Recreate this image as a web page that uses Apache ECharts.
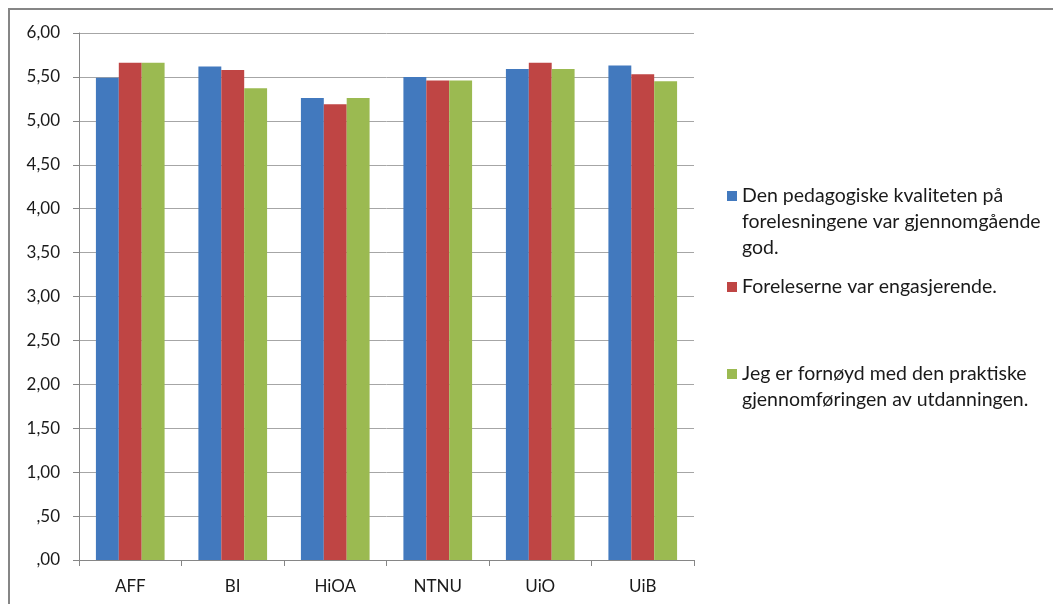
<!DOCTYPE html>
<html>
<head>
    <meta charset="utf-8">
    <script type="text/javascript" src="https://cdn.jsdelivr.net/npm/echarts@6/dist/echarts.min.js"></script>
    <title>charts</title>
    <style>
        html, body { margin: 0; padding: 0; background: #fff; }
    </style>
</head>
<body>
<div id="main" style="width: 1053px;height:604px;"></div>
<script type="text/javascript">

    // data
    var categories = ['AFF', 'BI', 'HiOA', 'NTNU', 'UiO', 'UiB'];
    var seriesNames = [
        'Den pedagogiske kvaliteten på forelesningene var gjennomgående god.',
        'Foreleserne var engasjerende.',
        'Jeg er fornøyd med den praktiske gjennomføringen av utdanningen.'
    ];
    // how the legend text wraps in the original
    var legendLines = [
        ['Den pedagogiske kvaliteten på', 'forelesningene var gjennomgående', 'god.'],
        ['Foreleserne var engasjerende.'],
        ['Jeg er fornøyd med den praktiske', 'gjennomføringen av utdanningen.']
    ];
    var pedagogisk = [5.49, 5.62, 5.26, 5.50, 5.59, 5.63];
    var engasjerende = [5.66, 5.58, 5.19, 5.46, 5.66, 5.53];
    var fornoyd = [5.66, 5.37, 5.26, 5.46, 5.59, 5.45];
    var colors = ['#4279BE', '#BF4544', '#9BBA51'];

    var font = 'Lato, "Open Sans", sans-serif';
    var lineH = 26;
    var legendTops = [183, 274, 361];

    var myChart = echarts.init(document.getElementById('main'));

    // legend marker sits next to the first line, like in Excel:
    // a 10x10 square at the top of a taller (invisible) box
    function markerIcon(n) {
        var h = (n - 1) * lineH + 10;
        return {
            icon: 'path://M0,0L10,0L10,10L0,10Z M0,' + h + 'L0.001,' + h + 'Z',
            h: h
        };
    }

    var legends = seriesNames.map(function (name, i) {
        var n = legendLines[i].length;
        var mk = markerIcon(n);
        return {
            left: 727,
            top: legendTops[i],
            orient: 'vertical',
            padding: 0,
            icon: n > 1 ? mk.icon : 'rect',
            itemWidth: 10,
            itemHeight: n > 1 ? mk.h : 10,
            data: [name],
            formatter: function () {
                return legendLines[i].join('\n');
            },
            textStyle: {
                fontFamily: font,
                fontSize: 19.5,
                color: '#1a1a1a',
                lineHeight: lineH
            }
        };
    });

    var option = {
        animation: false,
        color: colors,
        graphic: [{
            type: 'rect',
            shape: { x: 9, y: 9, width: 1050, height: 620 },
            style: { fill: 'none', stroke: '#868686', lineWidth: 2 },
            silent: true
        }],
        legend: legends,
        grid: {
            left: 79,
            right: 359,
            top: 33,
            bottom: 44
        },
        xAxis: {
            type: 'category',
            data: categories,
            axisLine: { lineStyle: { color: '#868686' } },
            axisTick: { show: true, length: 6, lineStyle: { color: '#868686' } },
            axisLabel: {
                fontFamily: font,
                fontSize: 17,
                color: '#1a1a1a',
                margin: 18
            }
        },
        yAxis: {
            type: 'value',
            min: 0,
            max: 6,
            interval: 0.5,
            axisLine: { show: true, lineStyle: { color: '#868686' } },
            axisTick: { show: true, length: 6, lineStyle: { color: '#868686' } },
            splitLine: { lineStyle: { color: '#a6a6a6' } },
            axisLabel: {
                fontFamily: font,
                fontSize: 17,
                color: '#1a1a1a',
                margin: 19,
                formatter: function (v) {
                    var s = v.toFixed(2).replace('.', ',');
                    return s.charAt(0) === '0' ? s.slice(1) : s;
                }
            }
        },
        series: [{
            name: seriesNames[0],
            type: 'bar',
            barGap: 0,
            barCategoryGap: '33%',
            data: pedagogisk
        }, {
            name: seriesNames[1],
            type: 'bar',
            barGap: 0,
            barCategoryGap: '33%',
            data: engasjerende
        }, {
            name: seriesNames[2],
            type: 'bar',
            barGap: 0,
            barCategoryGap: '33%',
            data: fornoyd
        }]
    };
    myChart.setOption(option);

</script>
</body>
</html>
